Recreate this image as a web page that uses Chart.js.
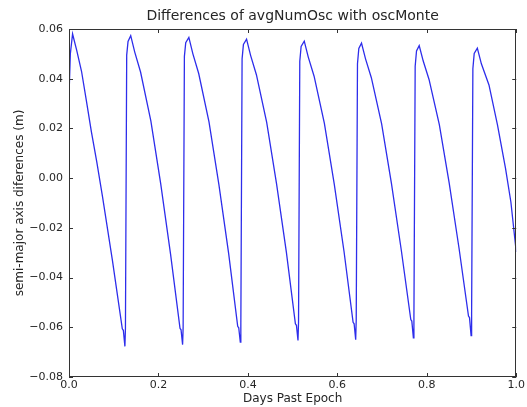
<!DOCTYPE html>
<html>
<head>
<meta charset="utf-8">
<script src="https://cdn.jsdelivr.net/npm/chart.js@4.4.1/dist/chart.umd.min.js"></script>
<style>
  html, body { margin: 0; padding: 0; background: #fff; }
  #wrap { width: 527px; height: 407px; }
</style>
</head>
<body>
<div id="wrap"><canvas id="oscChart" width="527" height="407"></canvas></div>
<script>
// Tempo (dias desde a época) e diferença do semi-eixo maior (m)
const xDays = [
    0.000, 0.003, 0.008, 0.017, 0.028, 0.039, 0.050, 0.062, 0.075, 0.097,
    0.1192, 0.1215, 0.125, 0.1262, 0.129, 0.132,
    0.138, 0.147, 0.160, 0.183, 0.205, 0.227,
    0.2482, 0.2505, 0.254, 0.2552, 0.258, 0.261,
    0.268, 0.277, 0.290, 0.313, 0.335, 0.357,
    0.3772, 0.3795, 0.383, 0.3842, 0.387, 0.390,
    0.397, 0.406, 0.419, 0.442, 0.464, 0.486,
    0.5062, 0.5085, 0.512, 0.5132, 0.516, 0.519,
    0.526, 0.535, 0.548, 0.571, 0.593, 0.615,
    0.6352, 0.6375, 0.641, 0.6422, 0.645, 0.648,
    0.654, 0.663, 0.676, 0.699, 0.721, 0.743,
    0.7642, 0.7665, 0.770, 0.7712, 0.774, 0.777,
    0.783, 0.792, 0.805, 0.828, 0.850, 0.872,
    0.8932, 0.8955, 0.899, 0.9002, 0.903, 0.906,
    0.913, 0.922, 0.939, 0.958, 0.976, 0.988, 1.000
];
const semiMajorDiff = [
    0.0330, 0.0500, 0.0580, 0.0516, 0.0430, 0.0310, 0.0187, 0.0066, -0.0075, -0.0330,
    -0.0606, -0.0612, -0.0677, -0.0605, 0.0495, 0.0550,
    0.0573, 0.0507, 0.0427, 0.0230, -0.0022, -0.0305,
    -0.0604, -0.0610, -0.0670, -0.0600, 0.0490, 0.0545,
    0.0566, 0.0500, 0.0421, 0.0226, -0.0024, -0.0304,
    -0.0596, -0.0602, -0.0660, -0.0590, 0.0480, 0.0538,
    0.0559, 0.0494, 0.0416, 0.0224, -0.0022, -0.0298,
    -0.0586, -0.0592, -0.0653, -0.0580, 0.0470, 0.0530,
    0.0551, 0.0487, 0.0410, 0.0220, -0.0023, -0.0296,
    -0.0580, -0.0586, -0.0650, -0.0570, 0.0460, 0.0522,
    0.0543, 0.0480, 0.0404, 0.0218, -0.0022, -0.0290,
    -0.0569, -0.0575, -0.0642, -0.0560, 0.0450, 0.0512,
    0.0533, 0.0471, 0.0397, 0.0215, -0.0019, -0.0281,
    -0.0555, -0.0561, -0.0633, -0.0550, 0.0440, 0.0502,
    0.0523, 0.0460, 0.0375, 0.0214, 0.0039, -0.0096, -0.0297
];

// Marcas dos eixos
const xTicks = [0, 0.2, 0.4, 0.6, 0.8, 1.0];
const xTickLabels = ['0.0', '0.2', '0.4', '0.6', '0.8', '1.0'];
const yTicks = [-0.08, -0.06, -0.04, -0.02, 0, 0.02, 0.04, 0.06];
const yTickLabels = ['\u22120.08', '\u22120.06', '\u22120.04', '\u22120.02', '0.00', '0.02', '0.04', '0.06'];

const FONT = 'DejaVu Sans';
const TEXT = '#262626';

// Moldura, marcas internas e título no estilo matplotlib
const framePlugin = {
    id: 'frame',
    afterDraw(chart) {
        const { ctx, chartArea: a, scales } = chart;
        ctx.save();
        ctx.strokeStyle = '#333';
        ctx.lineWidth = 1;
        ctx.strokeRect(Math.round(a.left) + 0.5, Math.round(a.top) + 0.5,
            Math.round(a.width) - 1, Math.round(a.height) - 1);

        ctx.beginPath();
        xTicks.forEach(v => {
            const px = Math.round(scales.x.getPixelForValue(v)) + 0.5;
            ctx.moveTo(px, a.bottom); ctx.lineTo(px, a.bottom - 4);
            ctx.moveTo(px, a.top); ctx.lineTo(px, a.top + 4);
        });
        yTicks.forEach(v => {
            const py = Math.round(scales.y.getPixelForValue(v)) + 0.5;
            ctx.moveTo(a.left, py); ctx.lineTo(a.left + 4, py);
            ctx.moveTo(a.right, py); ctx.lineTo(a.right - 4, py);
        });
        ctx.stroke();

        ctx.fillStyle = TEXT;
        ctx.font = '14px "' + FONT + '"';
        ctx.textAlign = 'center';
        ctx.textBaseline = 'middle';
        ctx.fillText('Differences of avgNumOsc with oscMonte', (a.left + a.right) / 2, 16);
        ctx.restore();
    }
};

const chartConfig = {
    type: 'scatter',
    data: {
        datasets: [{
            label: 'avgNumOsc - oscMonte',
            data: xDays.map((x, i) => ({ x: x, y: semiMajorDiff[i] })),
            showLine: true,
            borderColor: 'rgb(45, 45, 235)',
            borderWidth: 1.3,
            pointRadius: 0,
            tension: 0,
            fill: false
        }]
    },
    options: {
        responsive: false,
        animation: false,
        layout: { padding: { top: 29, right: 10, left: 0, bottom: 0 } },
        plugins: {
            legend: { display: false },
            tooltip: { enabled: false },
            title: { display: false }
        },
        scales: {
            x: {
                type: 'linear',
                min: 0,
                max: 1,
                afterBuildTicks: scale => { scale.ticks = xTicks.map(v => ({ value: v })); },
                afterFit: scale => { scale.height = 30; },
                ticks: {
                    callback: (v, i) => xTickLabels[i],
                    font: { family: FONT, size: 11 },
                    color: TEXT,
                    padding: 2,
                    maxRotation: 0,
                    autoSkip: false
                },
                grid: { display: false, drawTicks: false },
                border: { display: false },
                title: {
                    display: true,
                    text: 'Days Past Epoch',
                    font: { family: FONT, size: 12 },
                    color: TEXT,
                    padding: { top: 0, bottom: 1 }
                }
            },
            y: {
                min: -0.08,
                max: 0.06,
                afterBuildTicks: scale => { scale.ticks = yTicks.map(v => ({ value: v })); },
                afterFit: scale => { scale.width = 69; },
                ticks: {
                    callback: (v, i) => yTickLabels[i],
                    font: { family: FONT, size: 11 },
                    color: TEXT,
                    padding: 6,
                    autoSkip: false
                },
                grid: { display: false, drawTicks: false },
                border: { display: false },
                title: {
                    display: true,
                    text: 'semi-major axis diferences (m)',
                    font: { family: FONT, size: 12 },
                    color: TEXT,
                    padding: { top: 13, bottom: 0 }
                }
            }
        }
    },
    plugins: [framePlugin]
};

let oscChart;
document.addEventListener('DOMContentLoaded', function () {
    const ctx = document.getElementById('oscChart').getContext('2d');
    oscChart = new Chart(ctx, chartConfig);
});
</script>
</body>
</html>
